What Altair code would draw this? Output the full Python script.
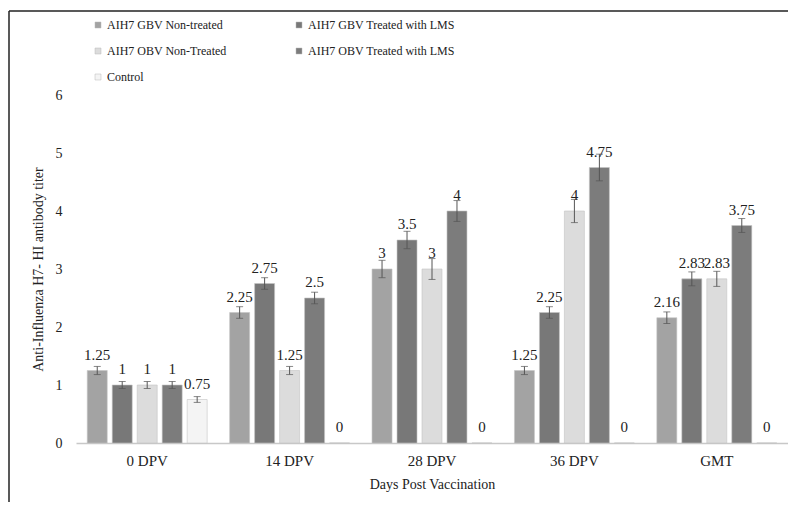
import altair as alt
import pandas as pd

categories = ["0 DPV", "14 DPV", "28 DPV", "36 DPV", "GMT"]
series = ["AIH7 GBV Non-treated", "AIH7 GBV Treated with LMS",
          "AIH7 OBV Non-Treated", "AIH7 OBV Treated with LMS", "Control"]

gbv_nt = [1.25, 2.25, 3, 1.25, 2.16]
gbv_t = [1, 2.75, 3.5, 2.25, 2.83]
obv_nt = [1, 1.25, 3, 4, 2.83]
obv_t = [1, 2.5, 4, 4.75, 3.75]
control = [0.75, 0, 0, 0, 0]

err_gbv_nt = [0.07, 0.1, 0.15, 0.07, 0.1]
err_gbv_t = [0.06, 0.1, 0.15, 0.1, 0.12]
err_obv_nt = [0.06, 0.07, 0.18, 0.2, 0.13]
err_obv_t = [0.06, 0.1, 0.18, 0.23, 0.12]
err_control = [0.05, 0, 0, 0, 0]

colors = ["#a3a3a3", "#787878", "#dcdcdc", "#7c7c7c", "#f4f4f4"]

vals = [gbv_nt, gbv_t, obv_nt, obv_t, control]
errs = [err_gbv_nt, err_gbv_t, err_obv_nt, err_obv_t, err_control]

rows = []
for s, vv, ee in zip(series, vals, errs):
    for c, v, e in zip(categories, vv, ee):
        rows.append({"cat": c, "series": s, "value": v,
                     "lo": v - e, "hi": v + e, "label": f"{v:g}",
                     "haserr": e > 0})
df = pd.DataFrame(rows)

FONT = "Liberation Serif"
W, H = 712, 348

x = alt.X("cat:N", sort=categories, title="Days Post Vaccination",
          scale=alt.Scale(paddingInner=0, paddingOuter=0),
          axis=alt.Axis(labelAngle=0, ticks=False, domainColor="#c8c8c8",
                        domainWidth=1.5, labelPadding=10, titlePadding=9,
                        labelFont=FONT, labelFontSize=15))
xo = alt.XOffset("series:N", sort=series,
                 scale=alt.Scale(paddingInner=0.2, paddingOuter=0.45))

base = alt.Chart(df)

bars = base.mark_bar(stroke="#c4c4c4", strokeWidth=0.6).encode(
    x=x, xOffset=xo,
    y=alt.Y("value:Q", title="Anti-Influenza H7- HI antibody titer",
            scale=alt.Scale(domain=[0, 6]),
            axis=alt.Axis(values=[0, 1, 2, 3, 4, 5, 6], format="d", grid=False, ticks=False,
                          domain=False, labelPadding=14, titlePadding=10,
                          labelFont=FONT)),
    color=alt.Color("series:N", sort=series,
                    scale=alt.Scale(domain=series, range=colors),
                    legend=alt.Legend(title=None, orient="none", legendX=16, legendY=-76,
                                      columns=2, direction="horizontal",
                                      columnPadding=66, rowPadding=14,
                                      symbolType="square", symbolSize=36,
                                      symbolStrokeColor="#bbbbbb", symbolStrokeWidth=0.5,
                                      labelFont=FONT, labelFontSize=12, labelLimit=400,
                                      labelColor="#222222", labelOffset=3)),
)

errdf = base.transform_filter("datum.haserr")
rules = errdf.mark_rule(color="#555555", strokeWidth=1).encode(
    x=x, xOffset=xo, y="lo:Q", y2="hi:Q")
caps_hi = errdf.mark_tick(color="#555555", thickness=1, size=7).encode(
    x=x, xOffset=xo, y="hi:Q")
caps_lo = errdf.mark_tick(color="#555555", thickness=1, size=7).encode(
    x=x, xOffset=xo, y="lo:Q")

labels = base.mark_text(font=FONT, fontSize=15, color="#222222",
                        baseline="middle", dy=-16).encode(
    x=x, xOffset=xo, y="value:Q", text="label:N")

frame_left = alt.Chart(pd.DataFrame({"a": [0]})).mark_rule(
    color="#222222", strokeWidth=1.5).encode(
    x=alt.value(-67), y=alt.value(-84), y2=alt.value(H + 70))
frame_top = alt.Chart(pd.DataFrame({"a": [0]})).mark_rule(
    color="#222222", strokeWidth=1.5).encode(
    x=alt.value(-67), x2=alt.value(W + 20), y=alt.value(-84))

chart = alt.layer(bars, rules, caps_hi, caps_lo, labels, frame_left, frame_top).properties(
    width=W, height=H,
    padding={"left": 68, "top": 87, "right": 0, "bottom": 59},
    autosize=alt.AutoSizeParams(type="none"),
    background="white",
).configure_view(stroke=None).configure_axis(
    labelFont=FONT, titleFont=FONT, labelFontSize=14, titleFontSize=14,
    labelColor="#222222", titleColor="#222222", titleFontWeight="normal"
).configure_legend(
    labelFont=FONT, labelFontSize=12, labelColor="#222222", labelLimit=400
)

chart.save("out.html", embed_options={"renderer": "svg", "actions": False})
